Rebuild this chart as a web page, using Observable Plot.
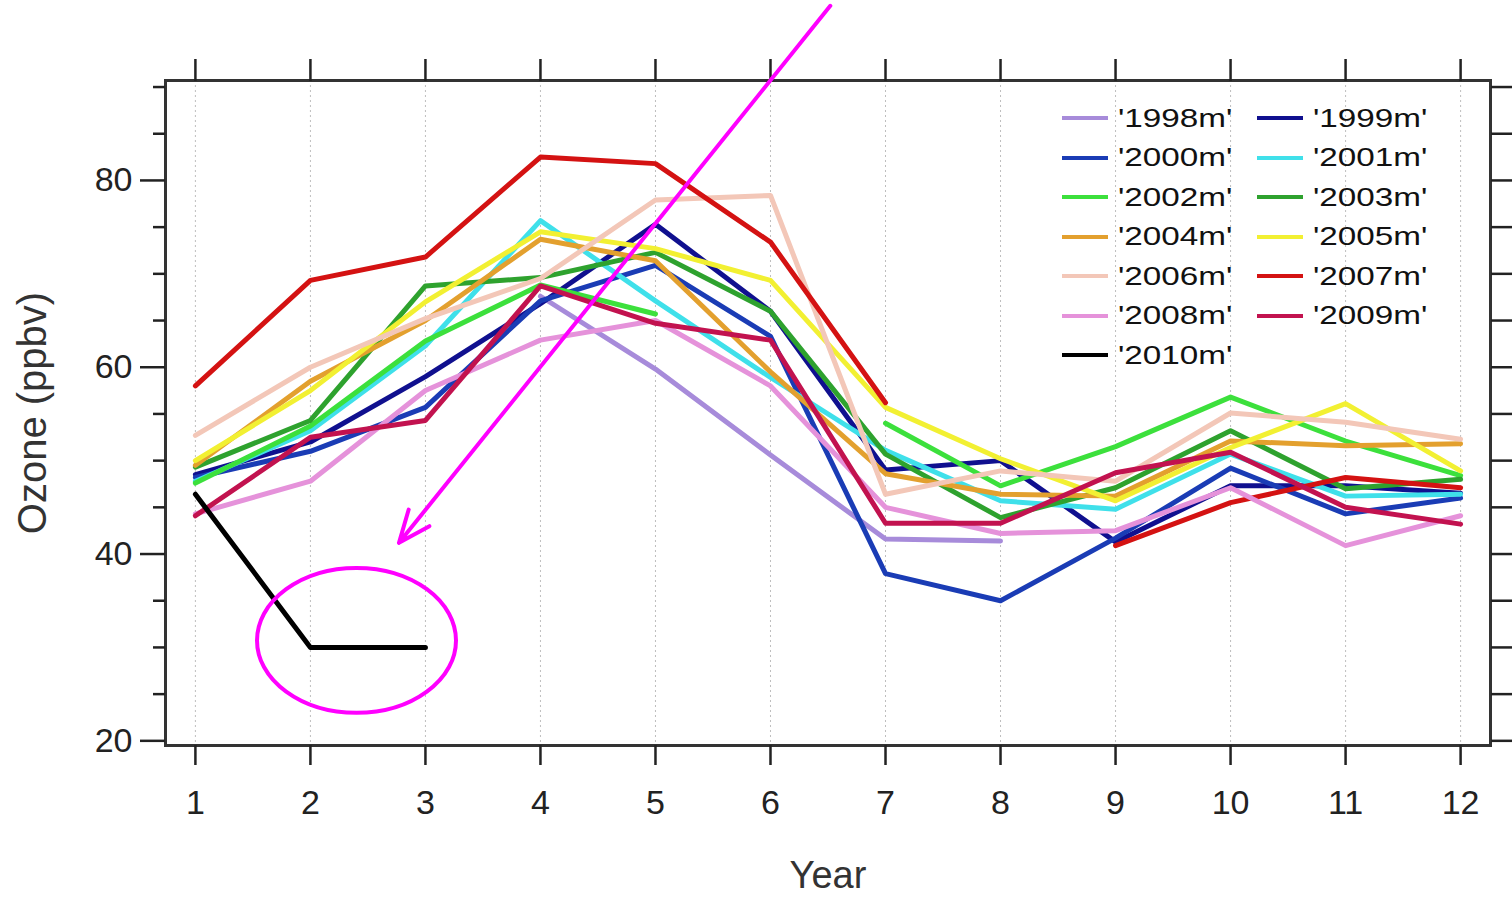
<!DOCTYPE html>
<html>
<head>
<meta charset="utf-8">
<script src="https://cdn.jsdelivr.net/npm/d3@7"></script>
<script src="https://cdn.jsdelivr.net/npm/@observablehq/plot@0.6"></script>
<style>
html, body { margin: 0; padding: 0; background: #fff; }
#wrap { position: relative; width: 1512px; height: 898px; overflow: hidden; font-family: "Liberation Sans", Arial, Helvetica, sans-serif; }
#legend { position: absolute; left: 0; top: 0; }
.item { position: absolute; display: flex; align-items: center; height: 40px; }
.sw { width: 46px; height: 4px; }
.lbl { margin-left: 10px; font-size: 25px; color: #111; display: inline-block; transform: scaleX(1.33); transform-origin: left center; white-space: nowrap; }
</style>
</head>
<body>
<div id="wrap"></div>
<script>
// ---- data ----
const months = [1, 2, 3, 4, 5, 6, 7, 8, 9, 10, 11, 12];
const seriesNames = ["'1998m'", "'1999m'", "'2000m'", "'2001m'", "'2002m'", "'2003m'", "'2004m'", "'2005m'", "'2006m'", "'2007m'", "'2008m'", "'2009m'", "'2010m'"];
const seriesColors = ["#A78BDA", "#10108F", "#1A3CB5", "#3FE0EA", "#3CE03C", "#2EA22E", "#E3A02E", "#F2F032", "#F3C7B8", "#D41212", "#E592DA", "#C2124F", "#000000"];

const s1998 = [null, null, null, 67.6, 59.8, 50.6, 41.6, 41.4, null, null, null, null];
const s1999 = [48.5, 52.0, 59.0, 66.8, 75.3, 66.0, 49.0, 50.0, 41.3, 47.3, 47.3, 46.5];
const s2000 = [48.2, 51.0, 55.7, 67.1, 70.9, 63.3, 37.9, 35.0, 41.7, 49.2, 44.3, 46.0];
const s2001 = [47.8, 53.2, 62.3, 75.7, 67.1, 58.9, 51.1, 45.7, 44.8, 50.7, 46.2, 46.4];
const s2002 = [47.6, 53.7, 62.8, 68.8, 65.7, null, 54.0, 47.3, 51.5, 56.8, 52.1, 48.4];
const s2003 = [49.3, 54.3, 68.7, 69.6, 72.3, 66.0, 50.7, 43.9, 47.1, 53.2, 47.0, 48.0];
const s2004 = [49.5, 58.5, 65.0, 73.7, 71.4, 59.5, 48.6, 46.4, 46.2, 52.1, 51.6, 51.8];
const s2005 = [50.0, 57.5, 67.0, 74.5, 72.7, 69.3, 55.7, 50.2, 45.7, 51.4, 56.1, 48.9];
const s2006 = [52.7, 60.0, 65.2, 69.5, 77.9, 78.4, 46.4, 48.9, 47.8, 55.1, 54.1, 52.3];
const s2007 = [58.0, 69.3, 71.8, 82.5, 81.8, 73.4, 56.2, null, 40.9, 45.5, 48.2, 47.1];
const s2008 = [44.3, 47.8, 57.5, 62.9, 65.0, 58.0, 45.0, 42.2, 42.5, 47.1, 40.9, 44.1];
const s2009 = [44.1, 52.5, 54.3, 68.7, 64.7, 62.9, 43.3, 43.3, 48.7, 50.9, 45.0, 43.2];
const s2010 = [46.4, 30.0, 30.0, null, null, null, null, null, null, null, null, null];

const yLabelTicks = [20, 40, 60, 80];
const yMinorTicks = [25, 30, 35, 45, 50, 55, 65, 70, 75, 85, 90];
const yAllTicks = [20, 25, 30, 35, 40, 45, 50, 55, 60, 65, 70, 75, 80, 85, 90];

// annotation (in data units)
const arrowAnno = [{x1: 6.52, y1: 98.7, x2: 2.77, y2: 41.2}];
const ellipseAnno = [{cx: 2.405, cy: 30.7, rx: 0.865, ry: 7.76}];

// ---- build table ----
const allSeries = [s1998, s1999, s2000, s2001, s2002, s2003, s2004, s2005, s2006, s2007, s2008, s2009, s2010];
const table = [];
allSeries.forEach((vals, i) => {
  vals.forEach((v, j) => table.push({series: seriesNames[i], month: months[j], value: v == null ? NaN : v}));
});

const FONT = "\"Liberation Sans\", Arial, Helvetica, sans-serif";

const plot = Plot.plot({
  width: 1512,
  height: 898,
  marginTop: 80,
  marginBottom: 153,
  marginLeft: 165,
  marginRight: 22,
  style: {fontFamily: FONT, background: "#fff", overflow: "visible"},
  x: {domain: [0.74, 12.26]},
  y: {domain: [19.5, 90.7]},
  color: {domain: seriesNames, range: seriesColors},
  marks: [
    Plot.gridX(months, {stroke: "#888", strokeOpacity: 0.55, strokeDasharray: "2,3", strokeWidth: 1}),
    Plot.line(table, {x: "month", y: "value", z: "series", stroke: "series", strokeWidth: 5}),
    Plot.frame({stroke: "#333", strokeWidth: 3}),
    Plot.axisX(months, {anchor: "bottom", tickSize: 20, tickPadding: 24, fontSize: 34, strokeWidth: 2.5, color: "#222", label: null, tickFormat: d => String(d)}),
    Plot.axisX(months, {anchor: "top", tickSize: 22, strokeWidth: 2.5, stroke: "#222", fill: "none", label: null}),
    Plot.axisY(yLabelTicks, {anchor: "left", tickSize: 25, tickPadding: 8, fontSize: 34, strokeWidth: 2.5, color: "#222", label: null, tickFormat: d => String(d)}),
    Plot.axisY(yMinorTicks, {anchor: "left", tickSize: 12, strokeWidth: 2.5, stroke: "#222", fill: "none", label: null}),
    Plot.axisY(yAllTicks, {anchor: "right", tickSize: 22, strokeWidth: 2.5, stroke: "#222", fill: "none", label: null}),
    Plot.text(["Year"], {text: d => d, frameAnchor: "bottom", dy: 130, lineAnchor: "middle", textAnchor: "middle", fontSize: 38, fill: "#333"}),
    Plot.text(["Ozone (ppbv)"], {text: d => d, frameAnchor: "left", dx: -132, rotate: -90, textAnchor: "middle", lineAnchor: "middle", fontSize: 40, fill: "#333"}),
    Plot.arrow(arrowAnno, {x1: "x1", y1: "y1", x2: "x2", y2: "y2", stroke: "#FF00FF", strokeWidth: 4, headLength: 13, headAngle: 45})
  ]
});

// ellipse annotation placed through the plot's own scales
const sx = plot.scale("x"), sy = plot.scale("y");
const svgSel = d3.select(plot.tagName.toLowerCase() === "svg" ? plot : plot.querySelector("svg"));
ellipseAnno.forEach(e => {
  const cx = sx.apply(e.cx), cy = sy.apply(e.cy);
  const rx = Math.abs(sx.apply(e.cx + e.rx) - cx);
  const ry = Math.abs(sy.apply(e.cy + e.ry) - cy);
  svgSel.append("ellipse")
    .attr("cx", cx).attr("cy", cy).attr("rx", rx).attr("ry", ry)
    .attr("fill", "none").attr("stroke", "#FF00FF").attr("stroke-width", 4);
});

const wrap = document.getElementById("wrap");
wrap.appendChild(plot);

// legend (HTML overlay inside the plot frame)
const legend = document.createElement("div");
legend.id = "legend";
seriesNames.forEach((name, i) => {
  const col = i % 2, row = Math.floor(i / 2);
  const item = document.createElement("div");
  item.className = "item";
  item.style.left = (1062 + col * 195) + "px";
  item.style.top = (98 + row * 39.5) + "px";
  const sw = document.createElement("span");
  sw.className = "sw";
  sw.style.background = seriesColors[i];
  const lbl = document.createElement("span");
  lbl.className = "lbl";
  lbl.textContent = name;
  item.appendChild(sw);
  item.appendChild(lbl);
  legend.appendChild(item);
});
wrap.appendChild(legend);
</script>
</body>
</html>
